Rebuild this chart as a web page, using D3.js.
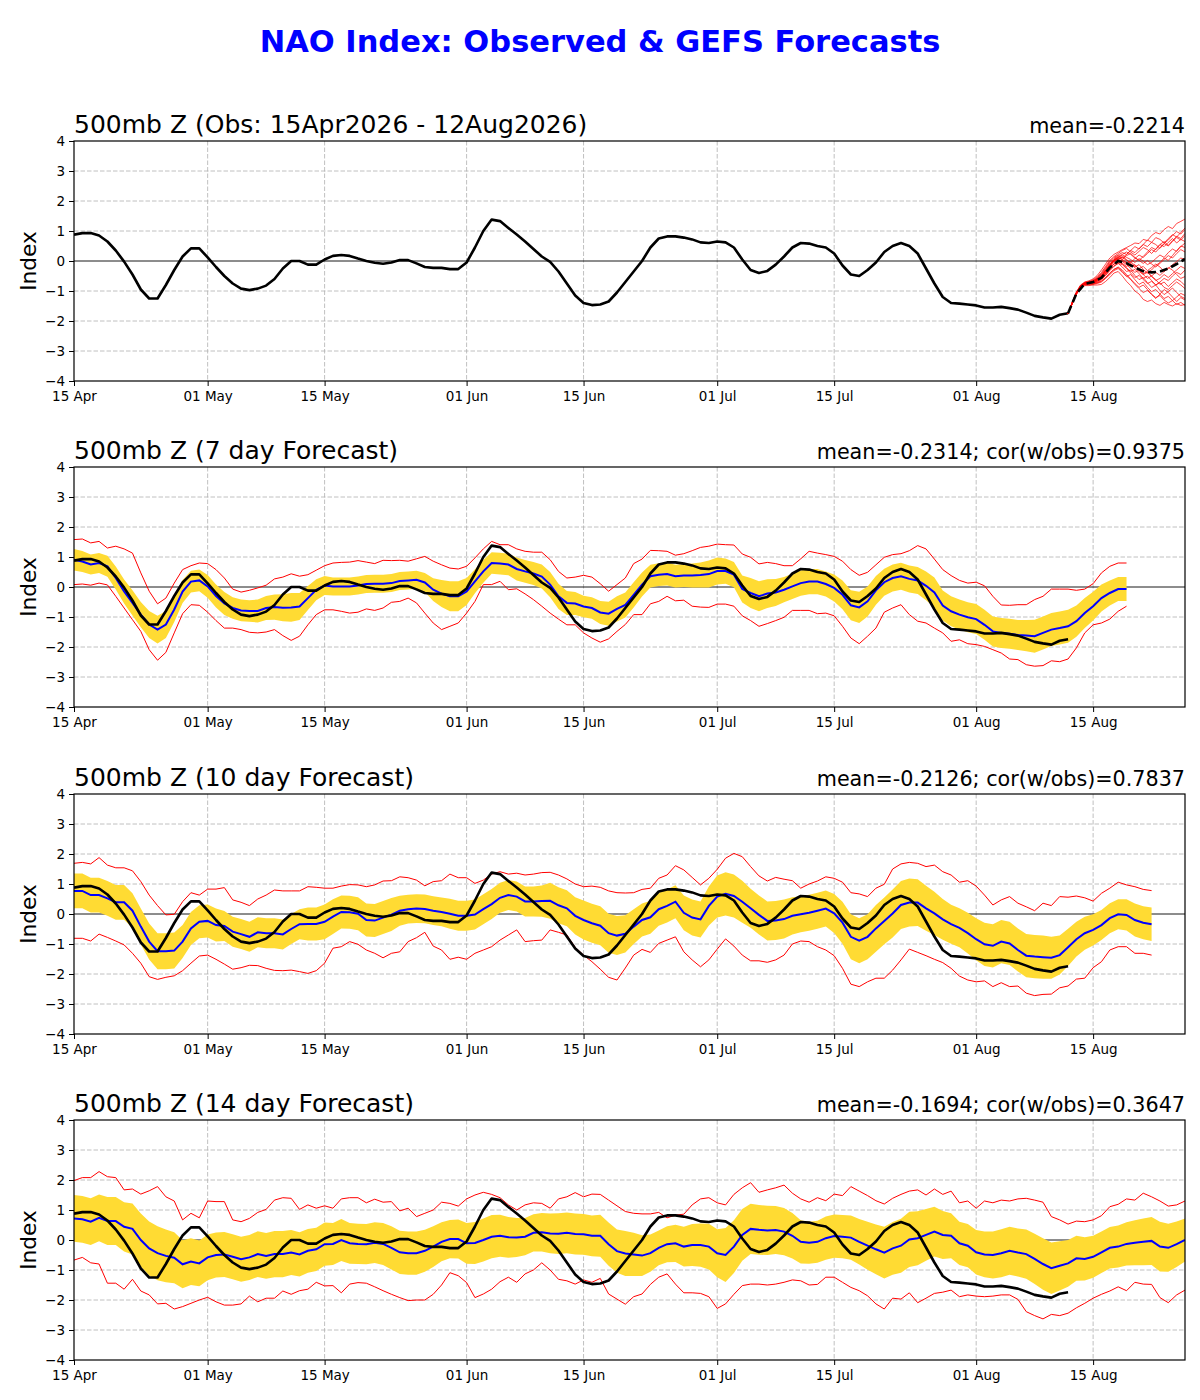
<!DOCTYPE html>
<html>
<head>
<meta charset="utf-8">
<script src="https://d3js.org/d3.v7.min.js"></script>
<style>
  body { margin: 0; background: #fff; }
  svg { display: block; font-family: "DejaVu Sans", sans-serif; }
</style>
</head>
<body>
<div id="chart"></div>
<script>
// ********** data **********
const startDay = Date.UTC(2026, 3, 15);
const endDay = Date.UTC(2026, 7, 26);
const xTickDates = ['2026-04-15', '2026-05-01', '2026-05-15', '2026-06-01', '2026-06-15',
  '2026-07-01', '2026-07-15', '2026-08-01', '2026-08-15'];
const yTicks = [-4, -3, -2, -1, 0, 1, 2, 3, 4];

const mainTitle = 'NAO Index: Observed & GEFS Forecasts';
const panelTitles = ['500mb Z (Obs: 15Apr2026 - 12Aug2026)', '500mb Z (7 day Forecast)',
  '500mb Z (10 day Forecast)', '500mb Z (14 day Forecast)'];
const panelStats = ['mean=-0.2214', 'mean=-0.2314; cor(w/obs)=0.9375',
  'mean=-0.2126; cor(w/obs)=0.7837', 'mean=-0.1694; cor(w/obs)=0.3647'];

// observed NAO, daily from 15 Apr
const obsNao = [
  0.88, 0.93, 0.93, 0.85, 0.65, 0.35, -0.02, -0.45, -0.95, -1.25,
  -1.25, -0.8, -0.3, 0.15, 0.42, 0.42, 0.12, -0.2, -0.5, -0.75,
  -0.92, -0.97, -0.92, -0.82, -0.6, -0.25, 0.0, 0.0, -0.12, -0.12,
  0.05, 0.17, 0.2, 0.17, 0.08, 0.0, -0.06, -0.09, -0.05, 0.03,
  0.03, -0.08, -0.2, -0.23, -0.23, -0.27, -0.27, -0.05, 0.45, 1.0,
  1.38, 1.33, 1.1, 0.88, 0.65, 0.4, 0.15, -0.03, -0.35, -0.75,
  -1.15, -1.4, -1.47, -1.45, -1.35, -1.05, -0.7, -0.35, 0.0, 0.45,
  0.75, 0.82, 0.82, 0.78, 0.72, 0.62, 0.6, 0.65, 0.62, 0.45,
  0.05, -0.3, -0.4, -0.33, -0.12, 0.15, 0.45, 0.6, 0.58, 0.5,
  0.45, 0.25, -0.15, -0.45, -0.5, -0.3, -0.05, 0.3, 0.5, 0.6,
  0.5, 0.25, -0.25, -0.75, -1.2, -1.4, -1.42, -1.45, -1.48, -1.55,
  -1.55, -1.53, -1.57, -1.62, -1.72, -1.83, -1.88, -1.92, -1.79, -1.74
];

// GEFS ensemble from 12 Aug, 12-hourly
const ensStart = 119;
const ensMembers = [
  [-1.75,-1.37,-1.03,-0.80,-0.70,-0.66,-0.60,-0.48,-0.30,-0.10,0.10,0.22,0.30,0.38,0.45,0.52,0.60,0.58,0.72,0.68,0.85,0.95,0.90,1.05,1.15,1.08,1.25,1.32,1.40],
  [-1.75,-1.43,-1.12,-0.90,-0.82,-0.82,-0.80,-0.80,-0.78,-0.68,-0.55,-0.40,-0.35,-0.50,-0.68,-0.82,-1.00,-1.10,-1.28,-1.35,-1.30,-1.42,-1.48,-1.38,-1.45,-1.50,-1.42,-1.48,-1.45],
  [-1.75,-1.40,-1.07,-0.84,-0.74,-0.71,-0.66,-0.55,-0.42,-0.22,-0.02,0.12,0.20,0.28,0.22,0.35,0.48,0.40,0.55,0.70,0.62,0.78,0.72,0.60,0.75,0.88,0.80,0.95,1.10],
  [-1.75,-1.41,-1.09,-0.87,-0.78,-0.77,-0.76,-0.72,-0.66,-0.55,-0.40,-0.28,-0.22,-0.35,-0.50,-0.62,-0.78,-0.92,-1.05,-0.98,-1.12,-1.25,-1.10,-0.95,-1.05,-1.20,-1.35,-1.22,-1.30],
  [-1.75,-1.39,-1.06,-0.83,-0.73,-0.70,-0.67,-0.58,-0.48,-0.30,-0.12,0.02,0.10,0.05,0.18,0.25,0.12,0.02,0.15,0.30,0.45,0.38,0.55,0.65,0.52,0.68,0.82,0.75,0.92],
  [-1.75,-1.40,-1.08,-0.86,-0.77,-0.76,-0.74,-0.70,-0.62,-0.48,-0.32,-0.18,-0.08,-0.20,-0.35,-0.30,-0.48,-0.62,-0.55,-0.72,-0.88,-0.80,-0.98,-1.12,-1.02,-0.90,-1.05,-1.18,-1.25],
  [-1.75,-1.40,-1.07,-0.85,-0.75,-0.72,-0.69,-0.62,-0.52,-0.35,-0.15,0.00,0.08,0.15,0.05,-0.08,-0.20,-0.12,-0.28,-0.40,-0.30,-0.15,-0.05,0.10,0.02,0.18,0.35,0.50,0.45],
  [-1.75,-1.41,-1.09,-0.86,-0.77,-0.75,-0.73,-0.68,-0.60,-0.46,-0.30,-0.16,-0.08,-0.12,-0.25,-0.40,-0.55,-0.48,-0.62,-0.75,-0.68,-0.80,-0.70,-0.58,-0.65,-0.50,-0.38,-0.45,-0.30],
  [-1.75,-1.39,-1.06,-0.84,-0.74,-0.72,-0.68,-0.60,-0.50,-0.32,-0.14,0.02,0.12,0.05,-0.05,-0.20,-0.12,-0.28,-0.42,-0.35,-0.50,-0.62,-0.78,-0.70,-0.85,-0.72,-0.60,-0.68,-0.82],
  [-1.75,-1.40,-1.08,-0.85,-0.75,-0.73,-0.70,-0.63,-0.55,-0.38,-0.18,-0.02,0.05,0.12,0.02,-0.05,0.08,0.20,0.12,0.25,0.38,0.30,0.45,0.58,0.50,0.65,0.78,0.70,0.85],
  [-1.75,-1.42,-1.11,-0.88,-0.80,-0.79,-0.78,-0.75,-0.70,-0.58,-0.45,-0.32,-0.25,-0.38,-0.52,-0.45,-0.62,-0.78,-0.70,-0.88,-1.02,-0.95,-1.10,-1.25,-1.18,-1.32,-1.20,-1.08,-1.15],
  [-1.75,-1.38,-1.04,-0.81,-0.71,-0.68,-0.63,-0.52,-0.38,-0.18,0.02,0.15,0.25,0.35,0.42,0.30,0.20,0.32,0.45,0.38,0.25,0.40,0.55,0.48,0.62,0.75,0.60,0.72,0.65],
  [-1.75,-1.40,-1.08,-0.86,-0.76,-0.74,-0.72,-0.66,-0.58,-0.42,-0.25,-0.10,-0.02,-0.10,-0.22,-0.35,-0.28,-0.42,-0.58,-0.50,-0.65,-0.80,-0.72,-0.88,-0.95,-0.82,-0.70,-0.80,-0.92],
  [-1.75,-1.41,-1.09,-0.86,-0.77,-0.75,-0.72,-0.66,-0.58,-0.42,-0.24,-0.10,-0.04,0.02,-0.08,-0.02,-0.15,-0.25,-0.18,-0.32,-0.22,-0.10,-0.20,-0.35,-0.25,-0.12,-0.02,0.10,0.05],
  [-1.75,-1.39,-1.07,-0.84,-0.74,-0.72,-0.69,-0.62,-0.52,-0.35,-0.16,0.00,0.06,-0.02,-0.12,-0.25,-0.38,-0.30,-0.45,-0.58,-0.50,-0.38,-0.48,-0.35,-0.22,-0.30,-0.45,-0.58,-0.52],
  [-1.75,-1.40,-1.08,-0.85,-0.75,-0.72,-0.69,-0.61,-0.50,-0.32,-0.12,0.05,0.15,0.22,0.30,0.22,0.10,0.02,-0.08,0.02,-0.10,-0.20,-0.08,0.05,0.18,0.10,0.25,0.38,0.30],
  [-1.75,-1.41,-1.10,-0.87,-0.78,-0.77,-0.76,-0.73,-0.68,-0.56,-0.42,-0.28,-0.20,-0.30,-0.45,-0.60,-0.75,-0.88,-0.80,-0.95,-1.10,-1.22,-1.15,-1.30,-1.40,-1.32,-1.45,-1.38,-1.48],
  [-1.75,-1.39,-1.06,-0.83,-0.73,-0.70,-0.66,-0.57,-0.45,-0.26,-0.06,0.08,0.18,0.10,0.22,0.35,0.28,0.42,0.55,0.48,0.62,0.55,0.42,0.58,0.70,0.85,0.98,0.90,1.05],
  [-1.75,-1.40,-1.08,-0.85,-0.75,-0.73,-0.70,-0.64,-0.56,-0.40,-0.22,-0.08,0.00,-0.08,-0.18,-0.10,-0.22,-0.35,-0.45,-0.38,-0.52,-0.65,-0.58,-0.45,-0.55,-0.42,-0.30,-0.18,-0.25],
  [-1.75,-1.40,-1.07,-0.84,-0.74,-0.71,-0.68,-0.60,-0.50,-0.32,-0.12,0.04,0.12,0.20,0.12,0.05,-0.05,0.08,0.00,-0.12,-0.05,0.08,0.20,0.12,0.28,0.40,0.32,0.48,0.60]
];
// ensemble mean, daily from 12 Aug
const ensMean = [-1.74, -1.09, -0.76, -0.7, -0.56, -0.22, 0.0, -0.07, -0.22, -0.34, -0.38, -0.35, -0.25, -0.1, 0.07];

// 7 day forecast: mean, spread (half width of the yellow band), max, min
const fc7Mean = [
  0.91, 0.85, 0.75, 0.8, 0.69, 0.3, -0.15, -0.53, -0.92, -1.25,
  -1.42, -1.25, -0.75, -0.15, 0.18, 0.22, 0.02, -0.3, -0.55, -0.7,
  -0.78, -0.8, -0.8, -0.7, -0.67, -0.69, -0.68, -0.65, -0.37, -0.09,
  0.05, 0.02, 0.02, 0.02, 0.05, 0.1, 0.11, 0.11, 0.13, 0.2,
  0.22, 0.24, 0.15, -0.09, -0.22, -0.31, -0.31, -0.15, 0.19, 0.52,
  0.8, 0.78, 0.75, 0.6, 0.52, 0.45, 0.35, 0.08, -0.31, -0.53,
  -0.55, -0.65, -0.7, -0.85, -0.89, -0.73, -0.6, -0.26, 0.08, 0.36,
  0.41, 0.43, 0.36, 0.38, 0.38, 0.4, 0.43, 0.53, 0.53, 0.41,
  -0.07, -0.2, -0.31, -0.22, -0.18, -0.09, 0.02, 0.13, 0.18, 0.18,
  0.1, -0.03, -0.26, -0.61, -0.68, -0.48, -0.11, 0.16, 0.3, 0.36,
  0.27, 0.22, 0.04, -0.18, -0.62, -0.81, -0.92, -1.01, -1.07, -1.26,
  -1.48, -1.53, -1.56, -1.6, -1.62, -1.64, -1.53, -1.42, -1.37, -1.31,
  -1.14, -0.87, -0.64, -0.37, -0.2, -0.07, -0.07
];
const fc7Spread = [
  0.36, 0.35, 0.33, 0.33, 0.35, 0.38, 0.4, 0.42, 0.42, 0.45,
  0.46, 0.45, 0.42, 0.38, 0.36, 0.36, 0.38, 0.38, 0.38, 0.36,
  0.36, 0.36, 0.38, 0.4, 0.42, 0.45, 0.48, 0.45, 0.4, 0.35,
  0.32, 0.3, 0.3, 0.3, 0.3, 0.3, 0.3, 0.3, 0.3, 0.3,
  0.3, 0.3, 0.32, 0.38, 0.45, 0.5, 0.5, 0.45, 0.4, 0.38,
  0.36, 0.36, 0.36, 0.38, 0.38, 0.38, 0.4, 0.42, 0.42, 0.4,
  0.38, 0.36, 0.36, 0.38, 0.4, 0.42, 0.42, 0.42, 0.4, 0.38,
  0.38, 0.38, 0.38, 0.38, 0.4, 0.42, 0.45, 0.45, 0.42, 0.42,
  0.45, 0.5, 0.5, 0.48, 0.45, 0.42, 0.42, 0.42, 0.42, 0.42,
  0.42, 0.45, 0.48, 0.5, 0.52, 0.5, 0.48, 0.45, 0.45, 0.45,
  0.45, 0.45, 0.48, 0.5, 0.5, 0.5, 0.5, 0.5, 0.5, 0.5,
  0.5, 0.5, 0.5, 0.5, 0.52, 0.55, 0.55, 0.55, 0.55, 0.55,
  0.52, 0.5, 0.48, 0.45, 0.42, 0.4, 0.4
];
const fc7Max = [
  1.58, 1.6, 1.47, 1.52, 1.3, 1.36, 1.27, 1.13, 0.47, -0.14,
  -0.56, -0.37, 0.13, 0.58, 0.71, 0.8, 0.78, 0.58, 0.3, -0.07,
  -0.17, -0.11, -0.03, 0.06, 0.27, 0.33, 0.44, 0.36, 0.41, 0.56,
  0.71, 0.8, 0.82, 0.83, 0.88, 0.83, 0.78, 0.89, 0.88, 0.89,
  0.86, 0.94, 1.02, 0.86, 0.74, 0.63, 0.6, 0.69, 0.97, 1.27,
  1.52, 1.41, 1.41, 1.27, 1.19, 1.16, 1.16, 0.91, 0.52, 0.3,
  0.33, 0.39, 0.33, 0.11, -0.14, 0.08, 0.3, 0.78, 0.93, 1.22,
  1.21, 1.19, 1.06, 1.11, 1.21, 1.32, 1.36, 1.43, 1.41, 1.4,
  1.1, 0.99, 0.77, 0.82, 0.78, 0.71, 0.71, 0.94, 1.19, 1.13,
  1.08, 1.02, 0.86, 0.58, 0.39, 0.49, 0.74, 0.99, 1.08, 1.11,
  1.21, 1.38, 1.27, 0.93, 0.58, 0.38, 0.22, 0.13, 0.16, 0.04,
  -0.31, -0.6, -0.61, -0.59, -0.59, -0.42, -0.31, -0.07, -0.07, -0.07,
  -0.11, -0.07, 0.11, 0.47, 0.69, 0.8, 0.8
];
const fc7Min = [
  0.08, 0.1, 0.06, 0.13, 0.07, -0.31, -0.7, -1.09, -1.48, -2.09,
  -2.44, -2.18, -1.53, -0.89, -0.59, -0.61, -0.84, -1.12, -1.37, -1.37,
  -1.42, -1.51, -1.53, -1.5, -1.42, -1.62, -1.78, -1.64, -1.26, -0.92,
  -0.76, -0.76, -0.81, -0.87, -0.84, -0.73, -0.78, -0.7, -0.51, -0.48,
  -0.37, -0.53, -0.87, -1.2, -1.42, -1.31, -1.2, -0.87, -0.48, 0.08,
  0.08, 0.19, -0.09, -0.06, -0.23, -0.42, -0.64, -0.87, -1.07, -1.26,
  -1.26, -1.53, -1.7, -1.84, -1.73, -1.48, -1.25, -0.92, -0.92, -0.56,
  -0.48, -0.31, -0.46, -0.44, -0.64, -0.67, -0.68, -0.57, -0.57, -0.64,
  -0.96, -1.12, -1.31, -1.22, -1.12, -1.01, -0.78, -0.78, -0.78, -0.89,
  -0.87, -0.96, -1.31, -1.7, -1.89, -1.64, -1.37, -0.84, -0.7, -0.59,
  -0.92, -1.14, -1.2, -1.37, -1.53, -1.81, -1.76, -1.89, -1.92, -1.98,
  -2.09, -2.2, -2.4, -2.42, -2.59, -2.64, -2.62, -2.46, -2.49, -2.4,
  -2.03, -1.53, -1.26, -1.2, -1.07, -0.81, -0.64
];

// 10 day forecast
const fc10Mean = [
  0.77, 0.77, 0.63, 0.63, 0.52, 0.39, 0.39, 0.11, -0.42, -0.92,
  -1.24, -1.24, -1.22, -0.92, -0.48, -0.26, -0.23, -0.37, -0.4, -0.59,
  -0.67, -0.76, -0.61, -0.64, -0.64, -0.68, -0.5, -0.34, -0.33, -0.33,
  -0.26, -0.09, 0.07, 0.06, 0.01, -0.2, -0.22, -0.12, -0.02, 0.11,
  0.16, 0.18, 0.17, 0.11, 0.07, 0.01, -0.06, -0.06, -0.02, 0.16,
  0.33, 0.54, 0.63, 0.58, 0.42, 0.42, 0.43, 0.44, 0.29, 0.19,
  -0.06, -0.2, -0.31, -0.39, -0.64, -0.72, -0.66, -0.42, -0.2, -0.11,
  0.16, 0.27, 0.41, 0.04, -0.12, -0.18, 0.27, 0.58, 0.67, 0.6,
  0.41, 0.19, -0.03, -0.23, -0.22, -0.17, -0.06, -0.01, 0.04, 0.11,
  0.18, 0.02, -0.29, -0.76, -0.89, -0.76, -0.48, -0.23, 0.02, 0.3,
  0.38, 0.38, 0.19, 0.02, -0.18, -0.34, -0.46, -0.64, -0.84, -1.01,
  -1.06, -0.92, -0.98, -1.2, -1.39, -1.42, -1.44, -1.46, -1.37, -1.11,
  -0.84, -0.64, -0.53, -0.37, -0.14, -0.01, -0.03, -0.2, -0.29, -0.34
];
const fc10Spread = [
  0.58, 0.58, 0.58, 0.58, 0.58, 0.58, 0.58, 0.58, 0.6, 0.6,
  0.6, 0.6, 0.6, 0.55, 0.55, 0.55, 0.55, 0.55, 0.5, 0.5,
  0.5, 0.5, 0.5, 0.5, 0.5, 0.5, 0.5, 0.5, 0.55, 0.55,
  0.58, 0.58, 0.55, 0.55, 0.55, 0.55, 0.55, 0.55, 0.55, 0.5,
  0.48, 0.48, 0.48, 0.48, 0.48, 0.5, 0.5, 0.5, 0.5, 0.5,
  0.5, 0.5, 0.5, 0.5, 0.5, 0.5, 0.52, 0.6, 0.6, 0.6,
  0.62, 0.65, 0.65, 0.65, 0.65, 0.65, 0.62, 0.58, 0.55, 0.55,
  0.55, 0.55, 0.55, 0.58, 0.6, 0.6, 0.65, 0.7, 0.72, 0.72,
  0.7, 0.65, 0.65, 0.65, 0.65, 0.65, 0.62, 0.6, 0.6, 0.6,
  0.6, 0.65, 0.7, 0.75, 0.75, 0.75, 0.78, 0.78, 0.8, 0.8,
  0.8, 0.78, 0.75, 0.72, 0.68, 0.65, 0.65, 0.68, 0.7, 0.72,
  0.72, 0.72, 0.72, 0.72, 0.72, 0.72, 0.72, 0.7, 0.65, 0.62,
  0.58, 0.55, 0.52, 0.5, 0.5, 0.5, 0.52, 0.55, 0.55, 0.56
];
const fc10Max = [
  1.69, 1.72, 1.67, 1.88, 1.63, 1.54, 1.54, 1.44, 1.08, 0.63,
  0.28, -0.03, -0.01, 0.41, 0.71, 0.63, 0.83, 0.83, 0.88, 0.47,
  0.39, 0.28, 0.5, 0.63, 0.8, 0.77, 0.77, 0.77, 0.91, 0.89,
  0.86, 0.86, 0.93, 0.98, 0.97, 0.91, 0.97, 1.1, 1.11, 1.24,
  1.21, 1.13, 0.94, 1.08, 1.11, 1.33, 1.21, 1.21, 1.02, 1.13,
  1.33, 1.41, 1.33, 1.36, 1.3, 1.33, 1.38, 1.39, 1.3, 1.17,
  1.0, 0.91, 0.93, 0.89, 0.77, 0.71, 0.7, 0.71, 0.82, 0.86,
  1.19, 1.3, 1.61, 1.47, 1.22, 0.97, 1.19, 1.49, 1.86, 2.02,
  1.91, 1.58, 1.27, 1.1, 1.22, 1.16, 1.11, 0.86, 1.0, 1.1,
  1.24, 1.19, 1.06, 0.71, 0.67, 0.58, 0.86, 0.99, 1.5, 1.67,
  1.72, 1.69, 1.58, 1.63, 1.41, 1.3, 1.06, 1.11, 0.93, 0.63,
  0.3, 0.47, 0.58, 0.36, 0.24, 0.11, 0.36, 0.28, 0.58, 0.56,
  0.6, 0.54, 0.43, 0.69, 0.86, 1.06, 0.97, 0.91, 0.82, 0.78
];
const fc10Min = [
  -0.81, -0.81, -0.9, -0.67, -0.78, -0.9, -1.03, -1.31, -1.64, -2.09,
  -2.18, -2.11, -2.06, -1.89, -1.64, -1.4, -1.37, -1.51, -1.67, -1.84,
  -1.79, -1.71, -1.72, -1.81, -1.88, -1.89, -1.87, -1.92, -1.98, -1.89,
  -1.64, -1.14, -1.09, -0.92, -1.01, -1.2, -1.31, -1.46, -1.31, -1.26,
  -0.92, -0.79, -0.61, -1.07, -1.2, -1.51, -1.44, -1.51, -1.31, -1.2,
  -1.09, -0.87, -0.7, -0.53, -0.92, -0.89, -0.87, -0.53, -0.61, -0.7,
  -1.11, -1.37, -1.59, -1.84, -2.11, -2.2, -1.8, -1.37, -1.18, -1.28,
  -0.98, -0.87, -0.76, -1.26, -1.53, -1.76, -1.53, -1.17, -0.83, -1.07,
  -1.37, -1.56, -1.56, -1.61, -1.53, -1.37, -1.0, -0.9, -0.92, -1.09,
  -1.2, -1.39, -1.81, -2.34, -2.42, -2.26, -2.14, -2.14, -1.87, -1.53,
  -1.17, -1.28, -1.39, -1.51, -1.62, -1.81, -2.07, -2.2, -2.26, -2.23,
  -2.42, -2.29, -2.42, -2.4, -2.64, -2.72, -2.68, -2.67, -2.46, -2.4,
  -2.17, -2.14, -1.79, -1.59, -1.2, -1.09, -1.09, -1.31, -1.31, -1.37
];

// 14 day forecast
const fc14Mean = [
  0.72, 0.69, 0.61, 0.74, 0.63, 0.63, 0.44, 0.37, 0.0, -0.28,
  -0.44, -0.53, -0.59, -0.81, -0.72, -0.78, -0.58, -0.5, -0.48, -0.56,
  -0.64, -0.58, -0.47, -0.53, -0.47, -0.47, -0.42, -0.48, -0.36, -0.31,
  -0.14, -0.13, 0.0, -0.11, -0.13, -0.14, -0.09, -0.13, -0.26, -0.41,
  -0.44, -0.44, -0.36, -0.22, -0.06, 0.03, 0.03, -0.11, -0.1, 0.0,
  0.11, 0.14, 0.09, 0.08, 0.11, 0.24, 0.26, 0.22, 0.21, 0.24,
  0.2, 0.19, 0.14, 0.14, -0.14, -0.37, -0.45, -0.48, -0.52, -0.44,
  -0.26, -0.14, -0.11, -0.22, -0.17, -0.17, -0.22, -0.44, -0.5, -0.22,
  0.17, 0.37, 0.34, 0.32, 0.33, 0.28, 0.14, -0.06, -0.09, -0.06,
  0.06, 0.13, 0.11, 0.08, -0.06, -0.19, -0.31, -0.42, -0.28, -0.19,
  0.02, 0.06, 0.17, 0.28, 0.17, 0.14, -0.11, -0.19, -0.41, -0.48,
  -0.5, -0.44, -0.36, -0.42, -0.47, -0.63, -0.8, -0.94, -0.86, -0.78,
  -0.61, -0.63, -0.56, -0.41, -0.26, -0.22, -0.13, -0.09, -0.06, -0.03,
  -0.22, -0.26, -0.14, 0.0
];
const fc14Spread = [
  0.78, 0.78, 0.78, 0.78, 0.8, 0.8, 0.82, 0.85, 0.88, 0.9,
  0.9, 0.88, 0.85, 0.8, 0.78, 0.76, 0.76, 0.75, 0.75, 0.75,
  0.75, 0.75, 0.76, 0.76, 0.77, 0.77, 0.75, 0.74, 0.73, 0.72,
  0.72, 0.7, 0.7, 0.68, 0.67, 0.67, 0.68, 0.7, 0.72, 0.72,
  0.72, 0.72, 0.7, 0.68, 0.65, 0.64, 0.65, 0.68, 0.7, 0.72,
  0.72, 0.7, 0.68, 0.65, 0.62, 0.62, 0.64, 0.66, 0.68, 0.68,
  0.68, 0.68, 0.68, 0.7, 0.72, 0.72, 0.75, 0.72, 0.68, 0.62,
  0.58, 0.6, 0.62, 0.66, 0.7, 0.72, 0.76, 0.8, 0.9, 0.88,
  0.86, 0.84, 0.83, 0.82, 0.8, 0.79, 0.76, 0.72, 0.7, 0.7,
  0.72, 0.72, 0.72, 0.74, 0.76, 0.8, 0.83, 0.86, 0.88, 0.9,
  0.92, 0.9, 0.86, 0.83, 0.8, 0.75, 0.72, 0.72, 0.74, 0.76,
  0.78, 0.8, 0.8, 0.8, 0.82, 0.84, 0.86, 0.86, 0.82, 0.78,
  0.75, 0.72, 0.7, 0.69, 0.69, 0.7, 0.72, 0.75, 0.78, 0.8,
  0.83, 0.8, 0.76, 0.72
];
const fc14Max = [
  1.98, 2.08, 2.08, 2.28, 2.11, 2.08, 1.67, 1.7, 1.53, 1.64,
  1.78, 1.44, 1.3, 0.67, 0.89, 0.74, 1.3, 1.28, 1.28, 0.67,
  0.61, 0.72, 0.92, 1.02, 1.33, 1.41, 1.39, 1.02, 1.17, 1.06,
  1.14, 1.06, 1.37, 1.41, 1.41, 1.24, 1.36, 1.26, 1.28, 0.97,
  1.06, 0.78, 0.89, 1.0, 1.26, 1.22, 1.13, 1.37, 1.5, 1.59,
  1.52, 1.41, 1.17, 1.0, 1.17, 1.24, 1.22, 1.06, 1.37, 1.44,
  1.58, 1.44, 1.53, 1.52, 1.33, 1.14, 0.95, 0.89, 0.87, 0.87,
  0.92, 0.74, 0.83, 0.86, 1.17, 1.37, 1.41, 1.24, 1.17, 1.52,
  1.74, 1.91, 1.59, 1.67, 1.74, 1.83, 1.56, 1.37, 1.26, 1.41,
  1.31, 1.53, 1.48, 1.78, 1.63, 1.48, 1.31, 1.2, 1.39, 1.52,
  1.63, 1.67, 1.5, 1.7, 1.52, 1.63, 1.24, 1.3, 1.06, 1.3,
  1.24, 1.33, 1.3, 1.37, 1.39, 1.33, 1.26, 0.78, 0.67, 0.53,
  0.63, 0.61, 0.67, 0.81, 1.11, 1.19, 1.37, 1.33, 1.56, 1.44,
  1.3, 1.13, 1.17, 1.3
];
const fc14Min = [
  -0.67, -0.58, -0.76, -0.8, -1.44, -1.44, -1.64, -1.31, -1.7, -1.83,
  -2.13, -2.11, -2.3, -2.22, -2.11, -2.0, -1.91, -2.06, -2.17, -2.17,
  -2.13, -1.87, -2.06, -1.94, -1.94, -1.7, -1.81, -1.69, -1.64, -1.41,
  -1.53, -1.52, -1.76, -1.47, -1.42, -1.44, -1.56, -1.69, -1.81, -1.92,
  -2.02, -2.0, -2.0, -1.81, -1.5, -1.09, -1.19, -1.42, -1.92, -1.8,
  -1.64, -1.39, -1.24, -1.41, -1.13, -1.0, -0.76, -1.0, -1.31, -1.36,
  -1.47, -1.33, -1.41, -1.28, -1.8, -1.97, -2.14, -1.89, -1.8, -1.48,
  -1.24, -1.13, -1.47, -1.76, -1.76, -1.78, -1.89, -2.28, -2.13, -1.81,
  -1.52, -1.47, -1.47, -1.5, -1.47, -1.41, -1.33, -1.36, -1.5, -1.48,
  -1.24, -1.24, -1.41, -1.58, -1.69, -1.86, -2.13, -2.3, -1.94, -1.97,
  -1.76, -2.09, -1.94, -1.78, -1.74, -1.67, -1.89, -1.83, -1.87, -1.89,
  -1.87, -1.83, -1.83, -1.98, -2.39, -2.52, -2.63, -2.48, -2.52, -2.44,
  -2.26, -2.11, -1.94, -1.81, -1.7, -1.56, -1.69, -1.41, -1.47, -1.48,
  -1.92, -2.09, -1.83, -1.67
];

const forecasts = [
  { mean: fc7Mean, spread: fc7Spread, max: fc7Max, min: fc7Min },
  { mean: fc10Mean, spread: fc10Spread, max: fc10Max, min: fc10Min },
  { mean: fc14Mean, spread: fc14Spread, max: fc14Max, min: fc14Min }
];

// ********** layout **********
const W = 1200, H = 1400;
const plotL = 74, plotR = 1185, panelH = 240;
const panelTops = [141, 467, 794, 1120];
const dayDate = (d) => new Date(startDay + d * 864e5);

const svg = d3.select('#chart').append('svg')
  .attr('width', W).attr('height', H);

svg.append('text')
  .attr('x', 600).attr('y', 52)
  .attr('text-anchor', 'middle')
  .attr('font-size', '30.5px')
  .attr('font-weight', 'bold')
  .attr('fill', '#0000ff')
  .text(mainTitle);

const x = d3.scaleUtc().domain([new Date(startDay), new Date(endDay)]).range([plotL, plotR]);
const xTicks = xTickDates.map(s => new Date(s + 'T00:00:00Z'));

const drawPanel = (idx) => {
  const top = panelTops[idx];
  const y = d3.scaleLinear().domain([-4, 4]).range([top + panelH, top]);
  const g = svg.append('g');

  // clip to plot box
  g.append('clipPath').attr('id', 'clip' + idx)
    .append('rect').attr('x', plotL).attr('y', top)
    .attr('width', plotR - plotL).attr('height', panelH);

  // dashed grid
  const grid = g.append('g')
    .attr('stroke', '#b0b0b0').attr('stroke-width', 0.8).attr('stroke-dasharray', '4.5,2');
  grid.selectAll('.gy').data(yTicks.filter(v => v !== 0 && Math.abs(v) < 4)).join('line')
    .attr('x1', plotL).attr('x2', plotR)
    .attr('y1', d => y(d)).attr('y2', d => y(d));
  grid.selectAll('.gx').data(xTicks.slice(1)).join('line')
    .attr('x1', d => x(d)).attr('x2', d => x(d))
    .attr('y1', top).attr('y2', top + panelH);

  // zero line
  g.append('line')
    .attr('x1', plotL).attr('x2', plotR)
    .attr('y1', y(0)).attr('y2', y(0))
    .attr('stroke', '#000').attr('stroke-width', 0.9);

  const plot = g.append('g').attr('clip-path', `url(#clip${idx})`);
  const line = d3.line().x(d => x(dayDate(d[0]))).y(d => y(d[1]));

  if (idx === 0) {
    // observed
    plot.append('path')
      .attr('d', line(obsNao.map((v, i) => [i, v])))
      .attr('fill', 'none').attr('stroke', '#000').attr('stroke-width', 2.6)
      .attr('stroke-linejoin', 'round');
    // ensemble members
    plot.append('g').selectAll('path').data(ensMembers).join('path')
      .attr('d', m => line(m.map((v, t) => [ensStart + t / 2, v])))
      .attr('fill', 'none').attr('stroke', '#ff0000').attr('stroke-width', 0.9)
      .attr('stroke-opacity', 0.8);
    // ensemble mean
    plot.append('path')
      .attr('d', line(ensMean.map((v, i) => [ensStart + i, v])))
      .attr('fill', 'none').attr('stroke', '#000').attr('stroke-width', 2.6)
      .attr('stroke-dasharray', '8,4');
  } else {
    const fc = forecasts[idx - 1];
    const area = d3.area()
      .x((d, i) => x(dayDate(i)))
      .y0((d, i) => y(d - fc.spread[i]))
      .y1((d, i) => y(d + fc.spread[i]));
    plot.append('path').attr('d', area(fc.mean))
      .attr('fill', '#ffdb33').attr('stroke', 'none');
    [fc.max, fc.min].forEach(arr => {
      plot.append('path')
        .attr('d', line(arr.map((v, i) => [i, v])))
        .attr('fill', 'none').attr('stroke', '#ff0000').attr('stroke-width', 1);
    });
    plot.append('path')
      .attr('d', line(fc.mean.map((v, i) => [i, v])))
      .attr('fill', 'none').attr('stroke', '#0000ff').attr('stroke-width', 2);
    plot.append('path')
      .attr('d', line(obsNao.map((v, i) => [i, v])))
      .attr('fill', 'none').attr('stroke', '#000').attr('stroke-width', 2.6)
      .attr('stroke-linejoin', 'round');
  }

  // frame
  g.append('rect')
    .attr('x', plotL).attr('y', top)
    .attr('width', plotR - plotL).attr('height', panelH)
    .attr('fill', 'none').attr('stroke', '#000').attr('stroke-width', 1.2);

  // axes
  const yAxis = g.append('g').attr('transform', `translate(${plotL},0)`)
    .call(d3.axisLeft(y).tickValues(yTicks).tickFormat(d3.format('d')).tickSize(5).tickPadding(4));
  const xAxis = g.append('g').attr('transform', `translate(0,${top + panelH})`)
    .call(d3.axisBottom(x).tickValues(xTicks).tickFormat(d3.utcFormat('%d %b')).tickSize(5).tickPadding(5));
  [yAxis, xAxis].forEach(a => {
    a.select('.domain').remove();
    a.selectAll('text').attr('font-size', '13.5px').attr('font-family', '"DejaVu Sans", sans-serif').attr('fill', '#000');
    a.selectAll('line').attr('stroke', '#000');
  });

  // y label
  g.append('text')
    .attr('transform', `translate(36,${top + panelH / 2}) rotate(-90)`)
    .attr('text-anchor', 'middle')
    .attr('font-size', '21.7px')
    .text('Index');

  // titles
  g.append('text')
    .attr('x', plotL).attr('y', top - 8)
    .attr('font-size', '25px')
    .text(panelTitles[idx]);
  g.append('text')
    .attr('x', plotR).attr('y', top - 8)
    .attr('text-anchor', 'end')
    .attr('font-size', '20.7px')
    .text(panelStats[idx]);
};

panelTops.forEach((_, i) => drawPanel(i));
</script>
</body>
</html>
